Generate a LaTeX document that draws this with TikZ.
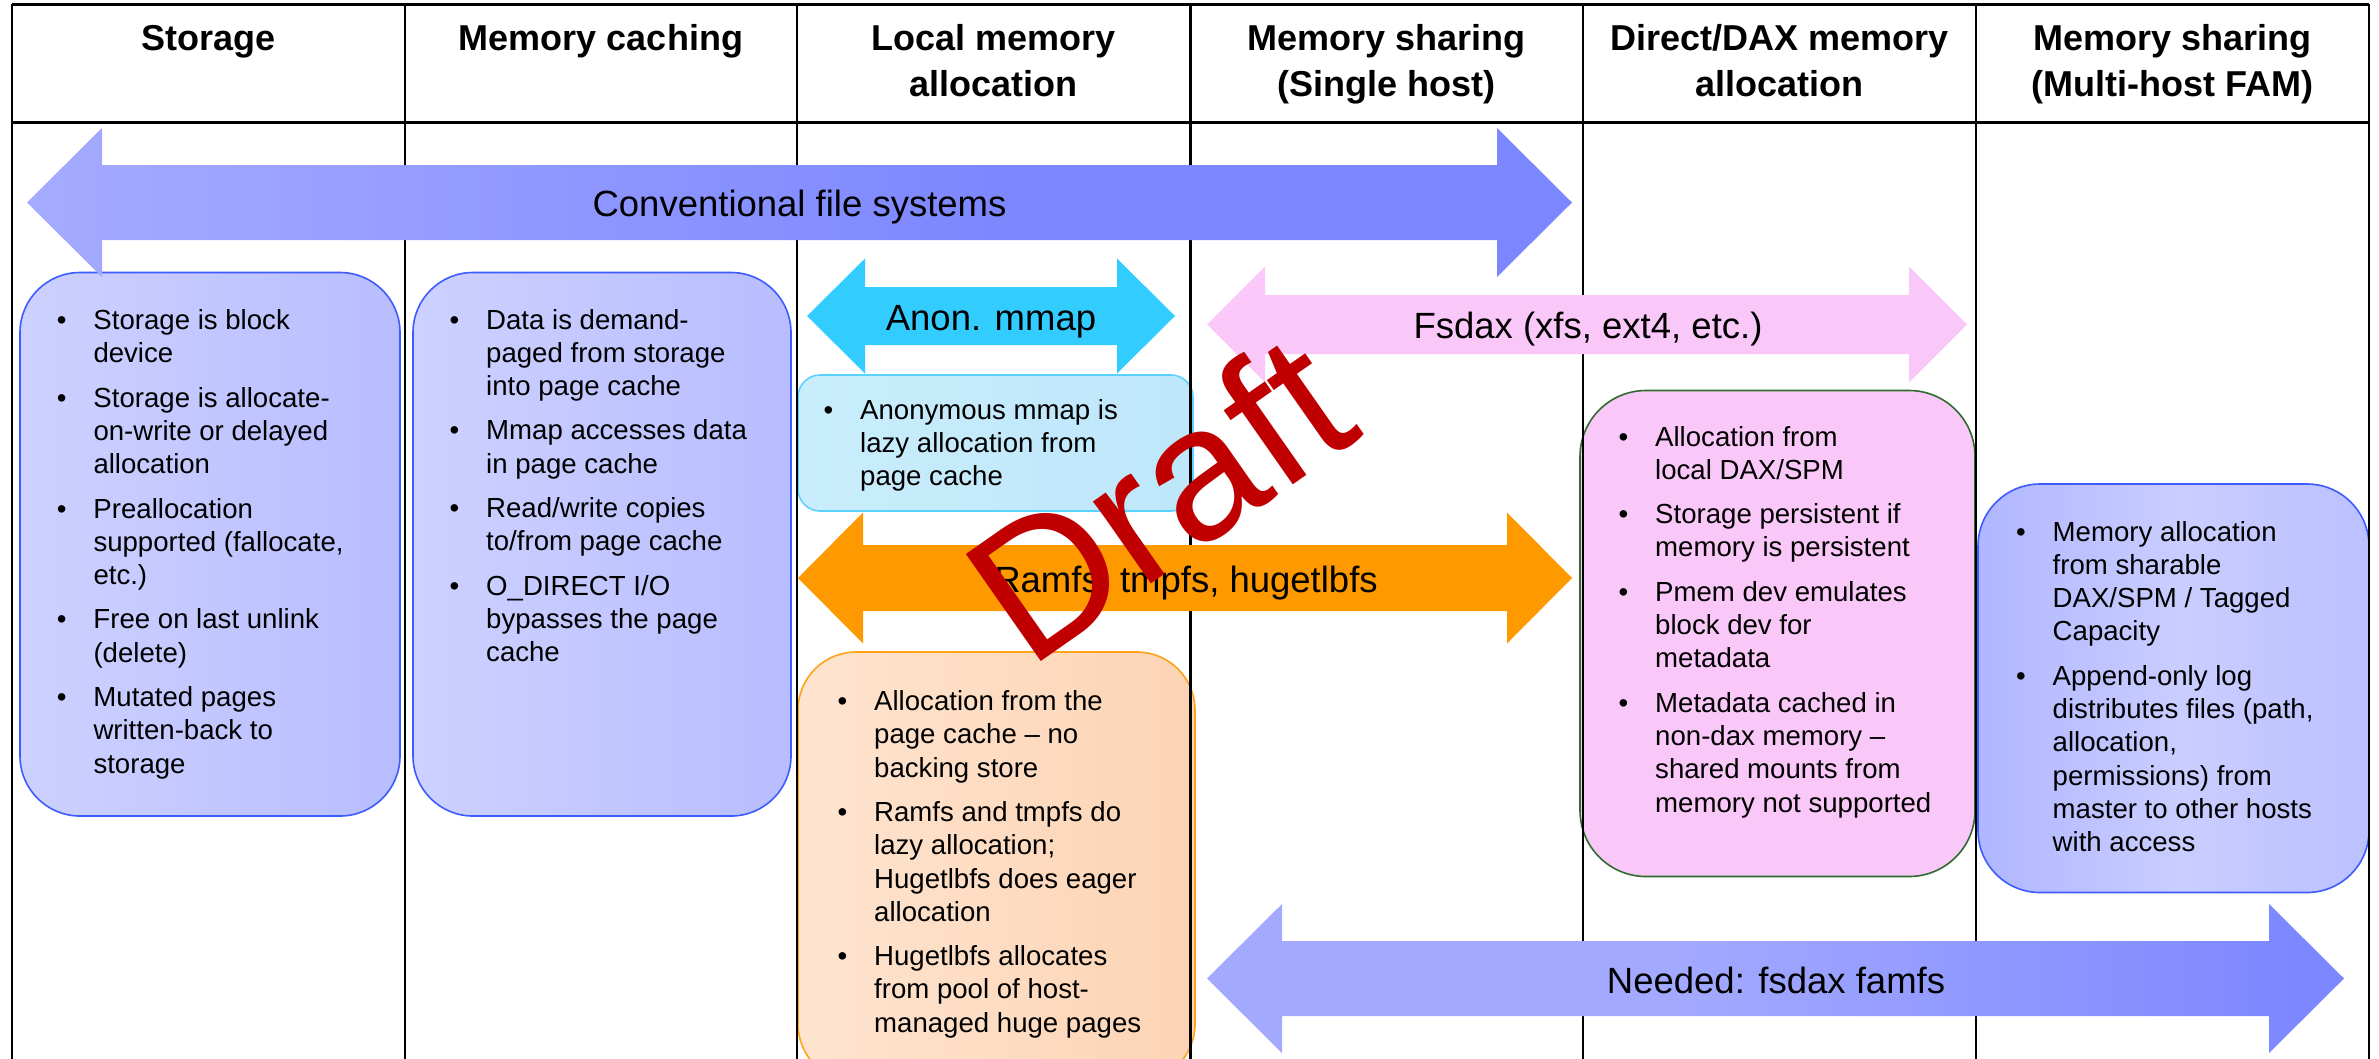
\documentclass[tikz,border=0pt]{standalone}
\usepackage{fontspec}
\setmainfont{Liberation Sans}

% palette
\definecolor{convA}{HTML}{A5ABFF}
\definecolor{convB}{HTML}{7C87FF}
\definecolor{needA}{HTML}{A2A9FF}
\definecolor{needB}{HTML}{7D87FF}
\definecolor{anonArrow}{HTML}{33CCFF}
\definecolor{fsdaxArrow}{HTML}{F9C8F8}
\definecolor{ramfsArrow}{HTML}{FF9900}
\definecolor{blueL}{HTML}{CDD1FF}
\definecolor{blueR}{HTML}{B8BDFF}
\definecolor{blueEdge}{HTML}{3D5CFF}
\definecolor{multiL}{HTML}{B0B6FF}
\definecolor{multiM}{HTML}{C9CDFF}
\definecolor{multiR}{HTML}{BCC0FF}
\definecolor{anonL}{HTML}{C9EDFC}
\definecolor{anonR}{HTML}{BEE7FA}
\definecolor{anonEdge}{HTML}{5AD2FF}
\definecolor{orgL}{HTML}{FEE4D0}
\definecolor{orgR}{HTML}{FCD4B4}
\definecolor{orgEdge}{HTML}{FFA31A}
\definecolor{pinkBox}{HTML}{F9C8F8}
\definecolor{pinkEdge}{HTML}{2F6B2F}
\definecolor{draftRed}{HTML}{C00000}

% horizontal shadings (25bp..75bp spans the filled shape)
\pgfdeclarehorizontalshading{convshade}{100bp}{color(0bp)=(convA); color(25bp)=(convA); color(57bp)=(convB); color(100bp)=(convB)}
\pgfdeclarehorizontalshading{needshade}{100bp}{color(0bp)=(needA); color(25bp)=(needA); color(46bp)=(needA); color(73bp)=(needB); color(100bp)=(needB)}
\pgfdeclarehorizontalshading{blueshade}{100bp}{color(0bp)=(blueL); color(25bp)=(blueL); color(75bp)=(blueR); color(100bp)=(blueR)}
\pgfdeclarehorizontalshading{multishade}{100bp}{color(0bp)=(multiL); color(25bp)=(multiL); color(51bp)=(multiM); color(75bp)=(multiR); color(100bp)=(multiR)}
\pgfdeclarehorizontalshading{anonshade}{100bp}{color(0bp)=(anonL); color(25bp)=(anonL); color(75bp)=(anonR); color(100bp)=(anonR)}
\pgfdeclarehorizontalshading{orgshade}{100bp}{color(0bp)=(orgL); color(25bp)=(orgL); color(75bp)=(orgR); color(100bp)=(orgR)}

% double-headed block arrow: left tip x, right tip x, centre y, shaft half, head half, head length
\newcommand\dblarrowpath[6]{(#1,#3) -- ({#1+#6},{#3-#5}) -- ({#1+#6},{#3-#4}) -- ({#2-#6},{#3-#4}) -- ({#2-#6},{#3-#5}) -- (#2,#3) -- ({#2-#6},{#3+#5}) -- ({#2-#6},{#3+#4}) -- ({#1+#6},{#3+#4}) -- ({#1+#6},{#3+#5}) -- cycle}

% bulleted lists
\newcommand\bul{\leavevmode\llap{•\hspace{27pt}}}
\newcommand\itemlist[1]{\parbox[t]{430pt}{\raggedright\setlength\parskip{11pt}#1}}

\tikzset{
  gridline/.style={line width=2.5pt, black},
  hdr/.style={anchor=base, inner sep=0pt, font=\fontsize{36}{46}\selectfont\bfseries},
  arrowlbl/.style={anchor=base, inner sep=0pt, font=\fontsize{36.5}{44}\selectfont},
  listtext/.style={anchor=base west, inner sep=0pt, font=\fontsize{27.6}{33.3}\selectfont},
  panel/.style={anchor=north west, inner sep=0pt, outer sep=0pt, line width=1.6pt, shade},
}

\begin{document}
\begin{tikzpicture}[x=1pt,y=-1pt]
\useasboundingbox (0,0) rectangle (2379,1058);
\clip (0,0) rectangle (2379,1058);
\fill[white] (0,0) rectangle (2379,1058);

% rounded panels
\node[panel, shading=blueshade, draw=blueEdge, rounded corners=60pt, minimum width=380pt, minimum height=543.5pt] (stoBox) at (20,272.5) {};
\node[panel, shading=blueshade, draw=blueEdge, rounded corners=60pt, minimum width=378pt, minimum height=543.5pt] (cacheBox) at (413,272.5) {};
\node[panel, shading=anonshade, draw=anonEdge, rounded corners=22pt, minimum width=395pt, minimum height=136pt] (anonBox) at (798,375) {};
\node[panel, shading=orgshade, draw=orgEdge, rounded corners=58pt, minimum width=397pt, minimum height=430pt] (ramBox) at (798,652) {};
\node[panel, shading=anonshade, fill=pinkBox, top color=pinkBox, bottom color=pinkBox, draw=pinkEdge, rounded corners=66pt, minimum width=395pt, minimum height=486pt] (daxBox) at (1580,390.5) {};
\node[panel, shading=multishade, draw=blueEdge, rounded corners=62pt, minimum width=391pt, minimum height=408.5pt] (famBox) at (1978,484) {};

% table rules
\draw[gridline, line width=3pt] (12,4) -- (2369,4);
\draw[gridline, line width=3.5pt] (12,122.5) -- (2369,122.5);
\foreach \x in {12,405,797,1190.5,1583,1976,2369}
  \draw[gridline] (\x,4) -- (\x,1062);

% block arrows
\shade[shading=convshade] \dblarrowpath{27}{1572}{202.5}{37.5}{74.5}{75};
\fill[anonArrow] \dblarrowpath{807}{1175}{316}{29}{57.5}{58};
\fill[fsdaxArrow] \dblarrowpath{1207}{1967}{324.5}{29.5}{58}{58};
\fill[ramfsArrow] \dblarrowpath{798}{1572}{578}{33}{65.5}{65};
\shade[shading=needshade] \dblarrowpath{1207}{2344}{978.5}{37.5}{74.5}{75};

% column headings
\node[hdr] (hStorage) at (208.5,50) {Storage};
\node[hdr] (hCaching) at (601,50) {Memory caching};
\node[hdr] (hLocal) at (993.5,50) {\parbox[t]{380pt}{\centering Local memory\\allocation}};
\node[hdr] (hSingle) at (1386.5,50) {\parbox[t]{380pt}{\centering Memory sharing\\(Single host)}};
\node[hdr] (hDax) at (1779.5,50) {\parbox[t]{380pt}{\centering Direct/DAX memory\\allocation}};
\node[hdr] (hMulti) at (2172.5,50) {\parbox[t]{380pt}{\centering Memory sharing\\(Multi-host FAM)}};

% arrow labels
\node[arrowlbl] (convLbl) at (799.5,216.5) {Conventional file systems};
\node[arrowlbl] (anonLbl) at (991,330) {Anon. mmap};
\node[arrowlbl] (fsdaxLbl) at (1588,338) {Fsdax (xfs, ext4, etc.)};
\node[arrowlbl] (ramLbl) at (1186,592) {Ramfs, tmpfs, hugetlbfs};
\node[arrowlbl] (needLbl) at (1776,993) {Needed: fsdax famfs};

% panel contents
\node[listtext] (stoText) at (93.3,329.5) {\itemlist{%
\bul Storage is block\\device\par
\bul Storage is allocate-\\on-write or delayed\\allocation\par
\bul Preallocation\\supported (fallocate,\\etc.)\par
\bul Free on last unlink\\(delete)\par
\bul Mutated pages\\written-back to\\storage}};

\node[listtext] (cacheText) at (486,329) {\itemlist{%
\bul Data is demand-\\paged from storage\\into page cache\par
\bul Mmap accesses data\\in page cache\par
\bul Read/write copies\\to/from page cache\par
\bul O\_DIRECT I/O\\bypasses the page\\cache}};

\node[listtext] (anonText) at (860,419) {\itemlist{%
\bul Anonymous mmap is\\lazy allocation from\\page cache}};

\node[listtext] (ramText) at (874,710.5) {\itemlist{%
\bul Allocation from the\\page cache – no\\backing store\par
\bul Ramfs and tmpfs do\\lazy allocation;\\Hugetlbfs does eager\\allocation\par
\bul Hugetlbfs allocates\\from pool of host-\\managed huge pages}};

\node[listtext] (daxText) at (1655,446) {\itemlist{%
\bul Allocation from\\local DAX/SPM\par
\bul Storage persistent if\\memory is persistent\par
\bul Pmem dev emulates\\block dev for\\metadata\par
\bul Metadata cached in\\non-dax memory –\\shared mounts from\\memory not supported}};

\node[listtext] (famText) at (2052.5,541) {\itemlist{%
\bul Memory allocation\\from sharable\\DAX/SPM / Tagged\\Capacity\par
\bul Append-only log\\distributes files (path,\\allocation,\\permissions) from\\master to other hosts\\with access}};

% watermark
\node[anchor=base, inner sep=0pt, rotate=35, text=draftRed, font=\fontsize{190}{190}\selectfont] (draft) at (1197,552) {Draft};
\end{tikzpicture}
\end{document}
